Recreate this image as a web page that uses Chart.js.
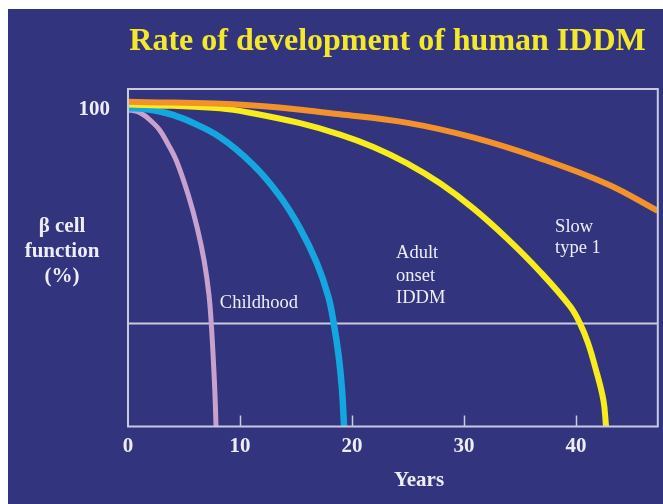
<!DOCTYPE html>
<html>
<head>
<meta charset="utf-8">
<title>Rate of development of human IDDM</title>
<script src="https://cdn.jsdelivr.net/npm/chart.js@4.4.1/dist/chart.umd.min.js"></script>
<style>
    html, body { margin: 0; padding: 0; background: #ffffff; }
    .slide {
        position: absolute;
        left: 8px;
        top: 9px;
        width: 655px;
        height: 495px;
        background: #32357e;
    }
</style>
</head>
<body>
<div class="slide"><canvas id="iddmChart"></canvas></div>
<script>
// Beta cell function (%) against years, one curve per form of IDDM
const childhoodYears = [0, 0.8, 1.4, 1.96, 2.79, 3.6, 4.35, 5.38, 6.19, 6.81, 7.23, 7.44, 7.62, 7.76, 7.86];
const childhoodFunction = [100, 99.5, 98.4, 96.8, 93.8, 89.0, 83.7, 73.1, 62.6, 52.1, 41.5, 32.1, 21.0, 10.5, 0];

const adultYears = [0, 1.5, 2.86, 4.0, 5.24, 8.21, 11.19, 13.57, 15.36, 16.85, 17.88, 18.39, 18.8, 19.1, 19.29];
const adultFunction = [100.6, 100.3, 99.5, 98.4, 96.8, 91.4, 82.6, 72.7, 62.6, 51.7, 41.1, 32.1, 22.5, 12.0, 0];

const slowYears = [0, 4.0, 8.21, 10.89, 15.36, 18.93, 21.9, 24.88, 27.86, 30.83, 33.81, 36.79, 39.46, 40.36, 41.07, 41.7, 42.44, 42.68];
const slowFunction = [101.7, 101.3, 100.5, 99.1, 95.8, 92.2, 88.3, 83.2, 76.8, 68.9, 59.5, 48.9, 38.0, 32.5, 26.4, 18.9, 8.4, 0];

const lateYears = [0, 10.89, 18.93, 24.97, 30.8, 36.79, 42.77, 47.3];
const lateFunction = [102.6, 101.5, 98.6, 95.9, 91.3, 84.7, 76.6, 68.1];

// Threshold level drawn across the whole plot
const thresholdLevel = 32.5;

const yearTicks = [0, 10, 20, 30, 40];
const functionTicks = [100];
const yearMax = 47.3;
const functionMax = 106.6;

const chartTitle = 'Rate of development of human IDDM';
const axisTitleLines = ['\u03b2 cell', 'function', '(%)'];
const xAxisTitle = 'Years';

const SERIF = '"Liberation Serif", "Times New Roman", serif';
const TEXT_COLOR = '#eeedf4';
const FRAME_COLOR = '#c9c9df';

function toPoints(xs, ys) {
    return xs.map((x, i) => ({ x: x, y: ys[i] }));
}

function curve(xs, ys, color, width) {
    return {
        data: toPoints(xs, ys),
        borderColor: color,
        borderWidth: width,
        pointRadius: 0,
        fill: false,
        tension: 0.4
    };
}

// Box around the plot with short inward ticks on the year axis
const plotFrame = {
    id: 'plotFrame',
    afterDatasetsDraw(chart) {
        const { ctx, chartArea: a, scales } = chart;
        ctx.save();
        ctx.strokeStyle = FRAME_COLOR;
        ctx.lineWidth = 2;
        ctx.strokeRect(a.left, a.top, a.right - a.left, a.bottom - a.top);
        ctx.lineWidth = 1.5;
        yearTicks.filter(v => v > 0).forEach(v => {
            const x = Math.round(scales.x.getPixelForValue(v)) + 0.5;
            ctx.beginPath();
            ctx.moveTo(x, a.bottom);
            ctx.lineTo(x, a.bottom - 11);
            ctx.stroke();
        });
        ctx.restore();
    }
};

// Title, axis captions and curve labels
const slideText = {
    id: 'slideText',
    afterDraw(chart) {
        const ctx = chart.ctx;
        const sx = chart.scales.x;
        const sy = chart.scales.y;
        ctx.save();
        ctx.textBaseline = 'alphabetic';

        ctx.textAlign = 'center';
        ctx.fillStyle = '#f4e82a';
        ctx.font = 'bold 32px ' + SERIF;
        ctx.fillText(chartTitle, 379.5, 40.5);

        ctx.fillStyle = TEXT_COLOR;
        ctx.font = 'bold 21px ' + SERIF;
        axisTitleLines.forEach((line, i) => ctx.fillText(line, 54, 223 + i * 25));
        ctx.fillText(xAxisTitle, 411, 477);

        ctx.textAlign = 'left';
        ctx.font = '18.5px ' + SERIF;
        ctx.fillText('Childhood', sx.getPixelForValue(8.2), sy.getPixelForValue(37.3));
        ['Adult', 'onset', 'IDDM'].forEach((line, i) => {
            ctx.fillText(line, sx.getPixelForValue(23.93), sy.getPixelForValue(53.1) + i * 22.5);
        });
        ['Slow', 'type 1'].forEach((line, i) => {
            ctx.fillText(line, sx.getPixelForValue(38.13), sy.getPixelForValue(61.3) + i * 21);
        });
        ctx.restore();
    }
};

const ctx = document.getElementById('iddmChart').getContext('2d');

new Chart(ctx, {
    type: 'line',
    data: {
        datasets: [
            curve(lateYears, lateFunction, '#f3922a', 6),
            curve(slowYears, slowFunction, '#f9ec1c', 6),
            curve(adultYears, adultFunction, '#14a7df', 6.5),
            curve(childhoodYears, childhoodFunction, '#c8a2cd', 5),
            {
                data: [{ x: 0, y: thresholdLevel }, { x: yearMax, y: thresholdLevel }],
                borderColor: FRAME_COLOR,
                borderWidth: 2,
                pointRadius: 0,
                fill: false
            }
        ]
    },
    options: {
        responsive: true,
        maintainAspectRatio: false,
        animation: false,
        layout: {
            padding: { top: 80, right: 5.2, bottom: 0, left: 0 }
        },
        plugins: {
            legend: { display: false },
            tooltip: { enabled: false },
            title: { display: false }
        },
        scales: {
            x: {
                type: 'linear',
                min: 0,
                max: yearMax,
                grid: { display: false, drawTicks: false },
                border: { display: false },
                ticks: {
                    color: TEXT_COLOR,
                    padding: 7,
                    maxRotation: 0,
                    font: { family: SERIF, size: 21, weight: 'bold' }
                },
                afterBuildTicks: scale => {
                    scale.ticks = yearTicks.map(v => ({ value: v }));
                },
                afterFit: scale => {
                    scale.height = 77.5;
                }
            },
            y: {
                min: 0,
                max: functionMax,
                grid: { display: false, drawTicks: false },
                border: { display: false },
                ticks: {
                    color: TEXT_COLOR,
                    padding: 18,
                    font: { family: SERIF, size: 21, weight: 'bold' }
                },
                afterBuildTicks: scale => {
                    scale.ticks = functionTicks.map(v => ({ value: v }));
                },
                afterFit: scale => {
                    scale.width = 120;
                }
            }
        }
    },
    plugins: [plotFrame, slideText]
});
</script>
</body>
</html>
